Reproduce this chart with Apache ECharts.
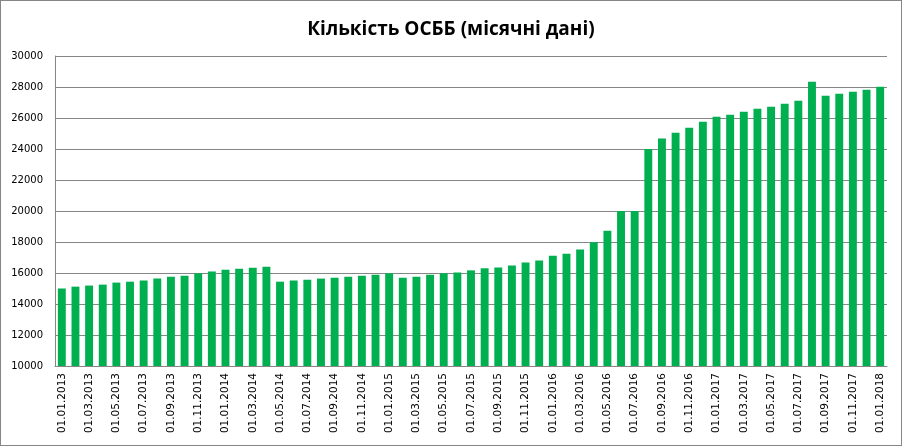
<!DOCTYPE html>
<html>
<head>
<meta charset="utf-8">
<script src="https://cdn.jsdelivr.net/npm/echarts@6/dist/echarts.min.js"></script>
<style>
	html, body { margin: 0; padding: 0; background: #fff; }
	#chart { width: 902px; height: 446px; box-sizing: border-box; border: 1px solid #868686; }
</style>
</head>
<body>
<div id="chart"></div>
<script>
// months 01.01.2013 .. 01.01.2018
var months = [
	'01.01.2013','01.02.2013','01.03.2013','01.04.2013','01.05.2013','01.06.2013',
	'01.07.2013','01.08.2013','01.09.2013','01.10.2013','01.11.2013','01.12.2013',
	'01.01.2014','01.02.2014','01.03.2014','01.04.2014','01.05.2014','01.06.2014',
	'01.07.2014','01.08.2014','01.09.2014','01.10.2014','01.11.2014','01.12.2014',
	'01.01.2015','01.02.2015','01.03.2015','01.04.2015','01.05.2015','01.06.2015',
	'01.07.2015','01.08.2015','01.09.2015','01.10.2015','01.11.2015','01.12.2015',
	'01.01.2016','01.02.2016','01.03.2016','01.04.2016','01.05.2016','01.06.2016',
	'01.07.2016','01.08.2016','01.09.2016','01.10.2016','01.11.2016','01.12.2016',
	'01.01.2017','01.02.2017','01.03.2017','01.04.2017','01.05.2017','01.06.2017',
	'01.07.2017','01.08.2017','01.09.2017','01.10.2017','01.11.2017','01.12.2017',
	'01.01.2018'
];
var osbbCount = [
	15000, 15120, 15190, 15250, 15380, 15440, 15510, 15640, 15760, 15830, 15980, 16090,
	16210, 16280, 16340, 16410, 15440, 15510, 15570, 15640, 15700, 15760, 15830, 15890,
	15980, 15700, 15760, 15890, 15980, 16040, 16170, 16300, 16360, 16490, 16670, 16800,
	17120, 17250, 17510, 17980, 18730, 20000, 20000, 24000, 24670, 25050, 25370, 25760,
	26080, 26210, 26410, 26600, 26730, 26920, 27120, 28340, 27440, 27570, 27700, 27830,
	28020
];
var yMin = 10000, yMax = 30000, yStep = 2000;

var osbbChart = echarts.init(document.getElementById('chart'));
var option = {
	animation: false,
	title: {
		text: 'Кількість ОСББ (місячні дані)',
		left: 'center',
		top: 14,
		textStyle: {
			fontFamily: 'Open Sans',
			fontWeight: 'bold',
			fontSize: 19,
			color: '#000'
		}
	},
	grid: {
		left: 54,
		right: 14,
		top: 55,
		bottom: 79,
		containLabel: false
	},
	xAxis: {
		type: 'category',
		data: months,
		axisLine: { lineStyle: { color: '#868686', width: 1 } },
		axisTick: { show: false },
		axisLabel: {
			interval: 1,
			rotate: 90,
			margin: 7,
			fontFamily: 'DejaVu Sans',
			fontSize: 10.5,
			color: '#000'
		}
	},
	yAxis: {
		type: 'value',
		min: yMin,
		max: yMax,
		interval: yStep,
		axisLine: { show: true, lineStyle: { color: '#868686', width: 1 } },
		axisTick: { show: false },
		splitLine: { lineStyle: { color: '#868686', width: 1 } },
		axisLabel: {
			margin: 12,
			fontFamily: 'DejaVu Sans',
			fontSize: 10,
			color: '#000',
			formatter: function (v) { return String(v); }
		}
	},
	series: [
		{
			name: 'ОСББ',
			type: 'bar',
			data: osbbCount,
			barCategoryGap: '42%',
			itemStyle: { color: '#00B050' }
		}
	]
};
osbbChart.setOption(option);
</script>
</body>
</html>
